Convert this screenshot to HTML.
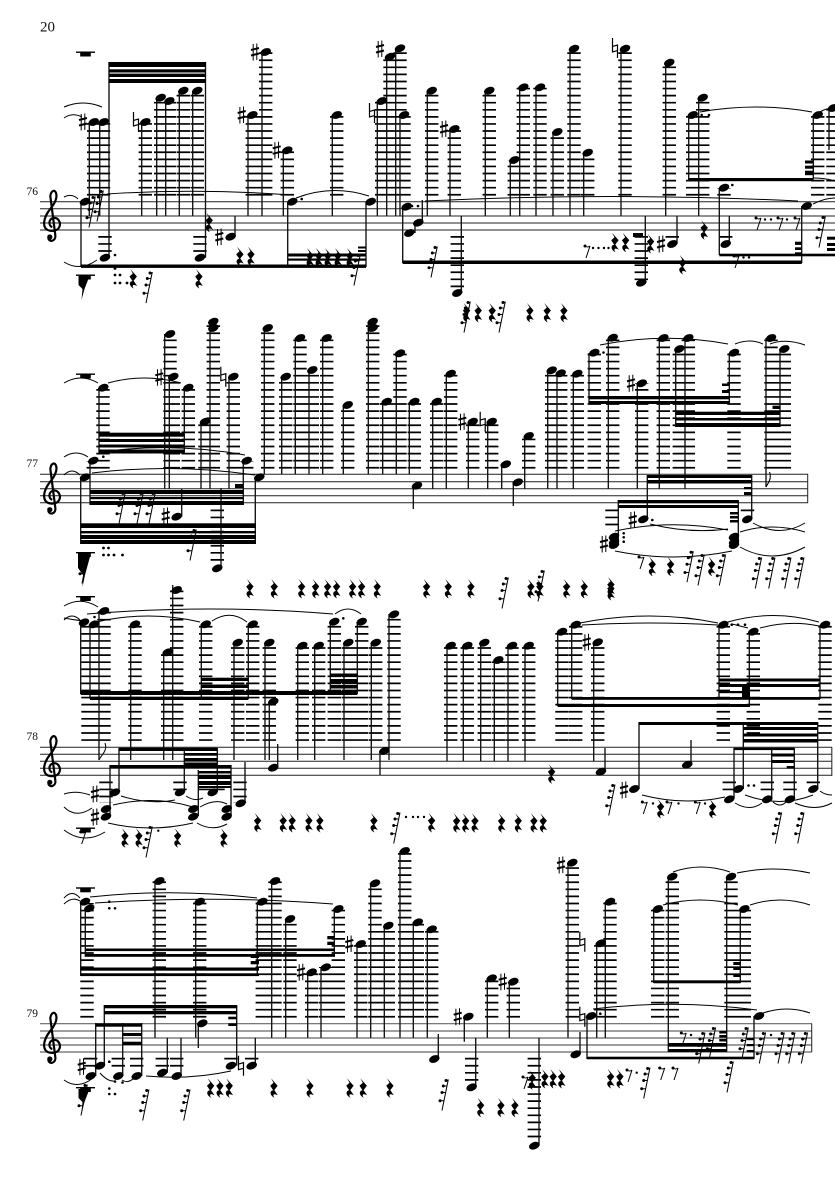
<!DOCTYPE html>
<html><head><meta charset="utf-8"><style>
html,body{margin:0;padding:0;background:#fff}
svg{display:block}
.st{stroke:#222;stroke-width:1;fill:none}
.l{stroke:#000;stroke-width:13.4;stroke-dasharray:1.7 5.38;fill:none}
.v{stroke:#111;stroke-width:1.35;fill:none}
.sl{stroke:#000;stroke-width:1;fill:none}
text{font-family:"Liberation Serif",serif;fill:#111}
.b{stroke:#111;stroke-width:.8;fill:none}
</style></head><body>
<svg width="835" height="1181" viewBox="0 0 835 1181" xmlns="http://www.w3.org/2000/svg">
<defs>
<ellipse id="n" rx="5.5" ry="3.6" transform="rotate(-22)"/>
<path id="q" d="M-3-9 3.6-1.5 .3 2.8 3.8 8C0 6-2 7 .5 10.5-4.5 8-4.5 3.5-.8 3L-3.8-1.5-.5-4.5Z"/>
<g id="s"><path d="M3.3-15.5-3 15.5M3-14.8H0M1.8-9H-2M.5-2.5H-3.5M-1.2 5.8H-5" stroke="#000" stroke-width="1" fill="none"/><circle cx="1" cy="-14.5" r="1.5"/><circle cx="-1.7" cy="-9" r="1.5"/><circle cx="-3" cy="-2.5" r="1.5"/><circle cx="-5" cy="5.8" r="1.5"/></g>
<g id="e"><path d="M3-5-1 7M-2-5C0-3.5 2-4 3-5" stroke="#000" stroke-width="1" fill="none"/><circle cx="-2" cy="-5" r="1.5"/></g>
<g id="h"><path d="M-1.8-8V8.5M1.8-8.5V8" stroke="#000" stroke-width="1" fill="none"/><path d="M-4-2 4-4M-4 3.5 4 1.5" stroke="#000" stroke-width="2" fill="none"/></g>
<path id="a" d="M-2.5-10V4L2.5 2.6V-3L-2.5-1.6M2.5-3V10" stroke="#000" stroke-width="1.2" fill="none"/>
<g id="w"><rect x="-9.5" y="0" width="19" height="1.4"/><rect x="-5.3" y="1" width="10.6" height="4"/></g>
<g id="f"><path d="M0 0C2-4 6-8 3.5-15" stroke="#000" stroke-width="1.1" fill="none"/></g>
<g id="c"><path d="M0 4C-4 3-4-4 1-5C6-6 9 0 7 4C5 9-4 9-7 5C-10 0-7-8-2-14C2-19 5-24 4-29C3-34-1-33-2-27L3 12C4 18-3 20-4 15" stroke="#000" stroke-width="2.2" fill="none"/><circle cx="-2.5" cy="14" r="2.6"/></g>
<path id="k" d="M-6 1H5L0 14-3 25-2 14-6 10Z"/>
</defs>

<text x="40" y="31.5" font-size="15">20</text>
<text x="26.5" y="195" font-size="11.5">76</text>
<text x="26.5" y="467" font-size="11.5">77</text>
<text x="26.5" y="740" font-size="11.5">78</text>
<text x="26.5" y="1017" font-size="11.5">79</text>

<!-- staffs -->
<path class="st" d="M40 201.7H835M40 208.8H835M40 216H835M40 223H835M40 230H835"/>
<path class="st" d="M40 474.3H808M40 481.7H808M40 488.7H808M40 495.7H808M40 502.7H808M807.7 474V503"/>
<path class="st" d="M40 747.3H832M40 754.3H832M40 761.3H832M40 768.3H832M40 775.3H832"/>
<path class="st" style="stroke:#666;stroke-width:1.2" d="M40 1023.7H812M40 1031H812M40 1038H812M40 1045H812M40 1052H812"/>
<path d="M831.8 747V776M811.7 1023.5V1052" stroke="#333" stroke-width="1.1" fill="none"/>
<use href="#c" x="52.3" y="223"/><use href="#c" x="52.3" y="495.7"/><use href="#c" x="52.3" y="768.3"/><use href="#c" x="52.3" y="1045"/>

<!-- SYSTEM 1 -->
<path class="l" d="M93.7 195.6V122M103.5 195.6V122M145.3 195.6V122M160.7 195.6V98M169.3 195.6V101M183.3 195.6V91M197.3 195.6V91M252.3 195.6V115M265.7 195.6V52M287.3 195.6V150M336.7 195.6V115M381.7 195.6V101M390 195.6V57M400 195.6V48M404 195.6V115M431.7 195.6V91M454.3 195.6V129M489.3 195.6V91M514.3 195.6V160M523.3 195.6V87M540 195.6V87M557.3 195.6V132M574 195.6V49M587.7 195.6V153M625 195.6V49M669.3 195.6V63M692.7 195.6V115M702.7 195.6V98M817.7 195.6V115M724 195.6V188M833 195.6V108"/>
<path class="l" d="M105 236V255M200 236V255M457.3 236V290M641.3 236V282M672.3 236V240M725.7 236V240"/>
<path class="v" d="M89.3 122V216M99.7 122V216M81 201.7V267M109 62V257.7M205.5 62V257.7M141.7 122V216M156.7 98V216M165.7 101V216M179.3 91V216M192.7 91V216M248 115V216M262 52V216M283.3 150V216M287.7 201.7V267M332.3 115V216M366 201.7V267M377.3 101V216M386.7 57V216M395.7 48V216M400 115V216M235 216V236.7M402.7 206.7V263M415 222V233M422.3 200V222M427.3 91V216M450 129V216M461.3 216V293M485.3 91V216M510.3 160V216M519.7 87V216M536 87V216M553 132V216M570 49V216M583.7 153V216M621 49V216M645.3 216V282.7M665.7 63V216M677 216V244M688.7 115V181M698.7 98V216M719.3 188V255M729.3 216V244M801.7 206V263M813.3 115V178M829 108V150"/>
<g fill="#000">
<rect x="108.5" y="62" width="97.5" height="5"/><rect x="108.5" y="69.3" width="97.5" height="3.2"/><rect x="108.5" y="73.6" width="97.5" height="3.4"/><rect x="108.5" y="79" width="97.5" height="4"/>
<rect x="81" y="264.5" width="285" height="3.4"/><rect x="288" y="253.5" width="78" height="3"/><rect x="288" y="258.5" width="78" height="2.2"/>
<rect x="402.7" y="260.5" width="399" height="3.5"/>
<rect x="688.7" y="178" width="125" height="3.2"/><rect x="805" y="160.5" width="8.3" height="3"/><rect x="805" y="165.7" width="8.3" height="3"/><rect x="805" y="170.7" width="8.3" height="4.5"/>
<rect x="719.3" y="253.7" width="82.4" height="2.6"/><rect x="795" y="241.7" width="6.7" height="3.2"/><rect x="795" y="247.3" width="6.7" height="2.7"/><rect x="795" y="252.3" width="6.7" height="3.6"/>
<rect x="801.7" y="253.7" width="33.3" height="2.6"/><rect x="827" y="236.7" width="8" height="3"/><rect x="827" y="243" width="8" height="3"/><rect x="827" y="248" width="8" height="3"/>
<rect x="633" y="233" width="10" height="4"/><rect x="358" y="246.5" width="8" height="2"/><rect x="358" y="250" width="8" height="2"/>
<use href="#w" x="85.5" y="51.5"/><use href="#w" x="85.5" y="274.5"/><use href="#k" x="84.5" y="275"/>
<use href="#n" x="93.7" y="122"/><use href="#n" x="103.5" y="122"/><use href="#n" x="85" y="201.7"/><use href="#n" x="105" y="257.7"/><use href="#n" x="200" y="257.7"/>
<use href="#n" x="145.3" y="122"/><use href="#n" x="160.7" y="97.7"/><use href="#n" x="169.3" y="101"/><use href="#n" x="183.3" y="90.7"/><use href="#n" x="197.3" y="90.7"/><use href="#n" x="252.3" y="115"/><use href="#n" x="265.7" y="52"/><use href="#n" x="287.3" y="150.3"/><use href="#n" x="292.3" y="201.7"/><use href="#n" x="336.7" y="115"/><use href="#n" x="370.7" y="201.7"/><use href="#n" x="381.7" y="101"/><use href="#n" x="390" y="56.7"/><use href="#n" x="400" y="48.3"/><use href="#n" x="404" y="115"/><use href="#n" x="406.7" y="206.7"/><use href="#n" x="409.3" y="233"/><use href="#n" x="418.3" y="222.7"/><use href="#n" x="230.7" y="236.7"/>
<use href="#n" x="431.7" y="90.7"/><use href="#n" x="454.3" y="129"/><use href="#n" x="457.3" y="293"/><use href="#n" x="489.3" y="90.7"/><use href="#n" x="514.3" y="160"/><use href="#n" x="523.3" y="87.3"/><use href="#n" x="540" y="87.3"/><use href="#n" x="557.3" y="132"/><use href="#n" x="574" y="48.7"/><use href="#n" x="587.7" y="152.7"/><use href="#n" x="625" y="48.7"/><use href="#n" x="641.3" y="282.7"/><use href="#n" x="669.3" y="62.7"/><use href="#n" x="672.3" y="244"/><use href="#n" x="692.7" y="115"/><use href="#n" x="702.7" y="97.7"/><use href="#n" x="724" y="187.7"/><use href="#n" x="725.7" y="244"/><use href="#n" x="806.7" y="206"/><use href="#n" x="817.7" y="115"/><use href="#n" x="833" y="108"/>
<use href="#h" x="83" y="122"/><use href="#h" x="241.7" y="115"/><use href="#h" x="255" y="52"/><use href="#h" x="276.7" y="150.3"/><use href="#h" x="380" y="49"/><use href="#h" x="219.3" y="237"/><use href="#h" x="444" y="129"/><use href="#h" x="661" y="244"/>
<use href="#a" x="136" y="122"/><use href="#a" x="372" y="113"/><use href="#a" x="615" y="48"/>
<use href="#q" x="209.3" y="221.7"/><use href="#q" x="199" y="278"/><use href="#q" x="133.3" y="278"/><use href="#q" x="240" y="255.7"/><use href="#q" x="251" y="255.7"/><use href="#q" x="704.3" y="229.3"/><use href="#q" x="682.7" y="264"/><use href="#q" x="615" y="241.7"/><use href="#q" x="625.7" y="241.7"/><use href="#q" x="650.7" y="243"/>
<use href="#q" x="466.7" y="312"/><use href="#q" x="478.3" y="312"/><use href="#q" x="492.3" y="312"/><use href="#q" x="530" y="312"/><use href="#q" x="547.3" y="312"/><use href="#q" x="564" y="312"/>
<use href="#s" x="149" y="287.5"/><use href="#s" x="434" y="262"/><use href="#s" x="467" y="317"/><use href="#s" x="502" y="317"/><use href="#s" x="822" y="232"/><use href="#s" x="357" y="270"/>
<use href="#q" x="310" y="257"/><use href="#q" x="319" y="257"/><use href="#q" x="328" y="257"/><use href="#q" x="338" y="257"/><use href="#q" x="350" y="257"/>
<use href="#s" x="92" y="212"/><use href="#s" x="100" y="206"/>
<use href="#e" x="587" y="251"/><use href="#e" x="758" y="223"/><use href="#e" x="780" y="223"/><use href="#e" x="797" y="223"/><use href="#e" x="736" y="261"/>
<circle cx="115" cy="255" r="1.3"/><circle cx="115" cy="268.5" r="1.4"/><circle cx="115" cy="275" r="1.4"/><circle cx="115" cy="283" r="1.4"/><circle cx="120" cy="275" r="1.4"/><circle cx="120" cy="283" r="1.4"/><circle cx="127" cy="283" r="1.4"/><circle cx="301.7" cy="199" r="1.3"/><circle cx="593" cy="248" r="1.2"/><circle cx="598.5" cy="248" r="1.2"/><circle cx="604" cy="248" r="1.2"/><circle cx="608.5" cy="248" r="1.2"/><circle cx="701.7" cy="115" r="1.3"/><circle cx="709" cy="115" r="1.3"/><circle cx="732.3" cy="185" r="1.3"/><circle cx="743.5" cy="257.5" r="1.2"/><circle cx="749" cy="257.5" r="1.2"/><circle cx="765" cy="219.5" r="1.2"/><circle cx="771" cy="219.5" r="1.2"/><circle cx="787" cy="219.5" r="1.2"/><circle cx="418" cy="206" r="1.3"/><circle cx="412" cy="206" r="1.3"/>
</g>
<path class="sl" d="M64 107Q83 99 102 107M64 118Q72 112 82 117M64 197Q72 193 78 199M64 262Q80 272 97 260M107 194Q198 188 290 195M296 198Q332 184 369 196M425 201Q611 192 798 201M700 112Q756 102 812 112M813 178Q825 178 835 181M813 204Q825 198 835 198M820 112Q826 108 835 108"/>

<!-- SYSTEM 2 -->
<path class="l" d="M103 468.6V388M188.3 468.6V388M173.3 468.6V377M170 468.6V334M205 468.6V422M213.3 468.6V322M233.3 468.6V377M267.7 468.6V328M285.7 468.6V377M300 468.6V338M312.3 468.6V370M326.7 468.6V338M347.7 468.6V405M372.7 468.6V322M386.7 468.6V402M400 468.6V353M414.3 468.6V402M436.7 468.6V402M450.7 468.6V374M472.7 468.6V422M491.7 468.6V422M528.7 468.6V436M551.7 468.6V370M560.7 468.6V373M577.3 468.6V374M594.3 468.6V353M612.7 468.6V338M641.7 468.6V383M663.3 468.6V338M679.3 468.6V349M688.3 468.6V338M734 468.6V353M771 468.6V338M784.3 468.6V349M93.3 468.6V461M246.7 468.6V461"/>
<path class="l" d="M217.3 509.5V564M612 509.5V530M747.5 509.5V512"/>
<path class="v" d="M99 388V453M184.3 388V453M169.3 377V488.7M164.7 334V488.7M201 422V488.7M210 322V488.7M229 377V488.7M264.3 328V474.3M281.7 377V474.3M295.3 338V474.3M309 370V474.3M322.7 338V474.3M343.3 405V474.3M368.3 322V474.3M382.7 402V474.3M396.3 353V474.3M409.3 402V474.3M413.3 485.7V509M432.7 402V488.7M446.3 374V488.7M468.3 422V488.7M487.7 422V488.7M501.7 464V488.7M513.3 482V506M524.7 436V488.7M547.7 370V488.7M557 373V488.7M573.3 374V488.7M589 353V404M608.3 338V488.7M637.3 383V488.7M659.3 338V488.7M675.7 349V427M685 338V488.7M729.3 353V404M766 338V487M780 349V427M647.3 475V519M751.7 475V519M618.3 500V545M738.3 500V545M80.7 477V544M90 461V505M255.3 477V544M243.3 461V505M221 488V568M181.7 488.7V516.7"/>
<g fill="#000">
<rect x="99" y="432.7" width="85.3" height="4"/><rect x="99" y="439" width="85.3" height="3"/><rect x="99" y="444.5" width="85.3" height="3"/><rect x="99" y="449.5" width="85.3" height="4"/>
<rect x="90" y="490" width="153.3" height="4"/><rect x="90" y="497" width="153.3" height="2.2"/><rect x="90" y="501" width="153.3" height="4"/><rect x="235" y="484" width="8.3" height="4"/>
<rect x="80.7" y="523.3" width="175" height="4.7"/><rect x="80.7" y="531" width="175" height="2.4"/><rect x="80.7" y="535" width="175" height="4"/><rect x="80.7" y="540" width="175" height="4"/>
<rect x="589" y="396" width="140.3" height="3.3"/><rect x="589" y="401" width="140.3" height="3"/><rect x="722" y="383.5" width="7.3" height="2.5"/><rect x="722" y="390" width="7.3" height="3"/>
<rect x="675.7" y="411.7" width="104.3" height="3.3"/><rect x="675.7" y="418" width="104.3" height="2.5"/><rect x="675.7" y="423" width="104.3" height="4"/><rect x="772.5" y="405.7" width="7.5" height="3.3"/>
<rect x="647.3" y="475" width="104.4" height="3"/><rect x="647.3" y="480" width="104.4" height="3.5"/><rect x="744" y="487" width="7.7" height="2.2"/><rect x="744" y="492" width="7.7" height="3"/>
<rect x="618.3" y="500" width="120" height="3.2"/><rect x="618.3" y="505" width="120" height="3"/><rect x="730" y="512" width="8.3" height="2.5"/><rect x="730" y="516" width="8.3" height="2.5"/><rect x="730" y="520" width="8.3" height="2.5"/>
<use href="#w" x="85.5" y="373.5"/><use href="#w" x="85.5" y="552"/><path d="M78 553H91L85 575 82.5 587 83 575 78 568Z"/>
<use href="#n" x="103.3" y="387.7"/><use href="#n" x="188.3" y="387.7"/><use href="#n" x="173.3" y="376.7"/><use href="#n" x="170" y="334"/><use href="#n" x="205" y="421.7"/><use href="#n" x="213.3" y="321.7"/><use href="#n" x="213.3" y="328"/><use href="#n" x="233.3" y="376.7"/><use href="#n" x="267.7" y="328"/><use href="#n" x="285.7" y="376.7"/><use href="#n" x="300" y="338"/><use href="#n" x="312.3" y="370"/><use href="#n" x="326.7" y="338"/><use href="#n" x="347.7" y="405"/><use href="#n" x="372.7" y="321.7"/><use href="#n" x="372.7" y="328"/><use href="#n" x="386.7" y="401.7"/><use href="#n" x="400" y="353.3"/><use href="#n" x="414.3" y="401.7"/><use href="#n" x="417" y="485.7"/>
<use href="#n" x="436.7" y="401.7"/><use href="#n" x="450.7" y="373.7"/><use href="#n" x="472.7" y="421.7"/><use href="#n" x="491.7" y="421.7"/><use href="#n" x="505.7" y="464.3"/><use href="#n" x="517.7" y="482.3"/><use href="#n" x="528.7" y="436"/><use href="#n" x="551.7" y="370.3"/><use href="#n" x="560.7" y="373.3"/><use href="#n" x="577.3" y="373.7"/><use href="#n" x="594.3" y="352.7"/><use href="#n" x="612.7" y="337.7"/><use href="#n" x="641.7" y="383.3"/><use href="#n" x="663.3" y="338"/><use href="#n" x="679.3" y="349"/><use href="#n" x="688.3" y="338"/><use href="#n" x="734" y="352.7"/><use href="#n" x="771" y="338"/><use href="#n" x="784.3" y="349"/>
<use href="#n" x="85" y="477.3"/><use href="#n" x="93.3" y="460.7"/><use href="#n" x="259.3" y="477.3"/><use href="#n" x="246.7" y="460.7"/><use href="#n" x="217.3" y="568.3"/><use href="#n" x="176.7" y="516.7"/>
<use href="#n" x="643.3" y="519.3"/><use href="#n" x="747.3" y="519.3"/><use href="#n" x="614" y="536.7"/><use href="#n" x="614" y="542"/><use href="#n" x="614" y="545"/><use href="#n" x="734" y="536.7"/><use href="#n" x="734" y="542"/><use href="#n" x="734" y="545"/>
<use href="#h" x="159.3" y="377.3"/><use href="#h" x="462.3" y="421.7"/><use href="#h" x="631" y="383.3"/><use href="#h" x="632.7" y="520"/><use href="#h" x="604" y="544"/><use href="#h" x="165.7" y="516"/>
<use href="#a" x="223.3" y="376.7"/><use href="#a" x="482.7" y="421.7"/>
<use href="#q" x="250" y="588"/><use href="#q" x="274.3" y="588"/><use href="#q" x="301.7" y="588"/><use href="#q" x="315.7" y="588"/><use href="#q" x="327.7" y="588"/><use href="#q" x="336.7" y="588"/><use href="#q" x="352.7" y="588"/><use href="#q" x="361.7" y="588"/><use href="#q" x="377.3" y="588"/><use href="#q" x="426.7" y="588"/><use href="#q" x="448.3" y="588"/><use href="#q" x="471" y="588"/><use href="#q" x="531" y="588"/><use href="#q" x="540" y="588"/><use href="#q" x="566.7" y="588"/><use href="#q" x="584.3" y="588"/><use href="#q" x="611" y="586"/><use href="#q" x="611" y="590"/>
<use href="#q" x="652.3" y="565.7"/><use href="#q" x="670.7" y="565.7"/><use href="#q" x="711.7" y="565.7"/>
<use href="#e" x="641" y="562"/>
<use href="#s" x="505" y="593"/><use href="#s" x="541" y="586"/><use href="#s" x="690" y="566.7"/><use href="#s" x="701" y="570"/><use href="#s" x="722.3" y="570"/><use href="#s" x="758.3" y="573"/><use href="#s" x="771.7" y="573"/><use href="#s" x="787.7" y="573"/><use href="#s" x="800.7" y="573"/><use href="#s" x="122" y="508"/><use href="#s" x="140" y="508"/><use href="#s" x="152" y="508"/><use href="#s" x="193" y="545"/><use href="#s" x="85" y="568"/>
<circle cx="103.3" cy="456.7" r="1.3"/><circle cx="652.3" cy="520" r="1.3"/><circle cx="623.7" cy="533.3" r="1.3"/><circle cx="623.7" cy="537.3" r="1.3"/><circle cx="623.7" cy="541.7" r="1.3"/><circle cx="603.5" cy="352.5" r="1.3"/><circle cx="103.5" cy="548" r="1.4"/><circle cx="108.5" cy="548" r="1.4"/><circle cx="103.5" cy="555" r="1.4"/><circle cx="108.5" cy="555" r="1.4"/><circle cx="114" cy="555" r="1.4"/><circle cx="122.5" cy="555" r="1.4"/>
</g>
<use href="#f" x="766" y="487"/>
<path class="sl" d="M64 383Q81 373 98 383M64 457Q76 449 88 457M64 475Q72 467 80 475M108 383Q144 373 181 383M92 473Q174 463 255 475M100 452Q172 442 245 455M600 345Q665 332 728 344M735 344Q750 338 763 344M770 344Q785 338 805 345M615 531Q672 519 728 530M650 524Q690 534 728 529M615 551Q674 563 732 551M740 532Q772 522 805 532M753 523Q780 538 805 523M740 547Q772 565 805 547"/>

<!-- SYSTEM 3 -->
<path class="l" d="M88 740.9V623M96 740.9V625M104 740.9V611M135 740.9V625M167.7 740.9V652M176.7 740.9V590M205.7 740.9V625M237.7 740.9V643M252.7 740.9V625M269.3 740.9V643M302.3 740.9V646M318.7 740.9V646M334.3 740.9V622M348.3 740.9V643M361.7 740.9V622M375.7 740.9V643M394 740.9V614M450.7 740.9V646M467.3 740.9V646M484.3 740.9V643M498.3 740.9V660M512 740.9V646M528.7 740.9V646M562 740.9V632M575.7 740.9V625M597.7 740.9V642M723.3 740.9V625M753.3 740.9V632M825 740.9V625"/>
<path class="l" d="M106 781.5V803M180 781.5V791M205 781.5V791M218 781.5V791M240 781.5V803M729.3 781.5V791M767.3 781.5V791M790 781.5V791M813.3 781.5V785"/>
<path class="v" d="M80.7 622V694M90 624V699M99 611V760M130.7 624V760M163.7 652V760M172.7 585V760M201.3 624V699M234 643V760M248.3 624V699M265 643V760M269.3 702V760M277.7 744V767.7M297.7 646V760M314.7 646V760M330.3 622V694M344 643V760M357.3 622V694M371.3 643V760M380 751V775M389 614V760M447 646V761M463.3 646V761M480.7 643V761M494.3 660V761M508 646V761M525 646V761M557.7 632V706M571.7 625V699M593.7 642V761M605 748V771.7M719 625V699M749.3 632V706M820 625V699M119 748V792M110 765V816M184.3 748V792M198.3 770V816M217.3 748V792M231 765V816M245 762V803M639 722V789M734 748V799M743.3 722V789M771.7 748V799M794.3 748V799M817.7 722V789M691 740V764.7"/>
<path class="b" style="stroke-width:1.1" d="M99 760C101 755 108 751 105 743"/>
<g fill="#000">
<rect x="80.7" y="691" width="276.6" height="4"/><rect x="90" y="696.7" width="158.3" height="3.3"/><rect x="201.3" y="677.7" width="47" height="3.3"/><rect x="201.3" y="684.5" width="47" height="3.5"/><rect x="330.3" y="673.5" width="27" height="3"/><rect x="330.3" y="679" width="27" height="4"/><rect x="330.3" y="685" width="27" height="3.5"/>
<rect x="119" y="747.7" width="98.3" height="3.3"/><rect x="110" y="765" width="121" height="3.3"/><rect x="184.3" y="753" width="33" height="2.7"/><rect x="184.3" y="758" width="33" height="3"/><rect x="184.3" y="762.5" width="33" height="2.5"/><rect x="198.3" y="771" width="32.7" height="2.5"/><rect x="198.3" y="775" width="32.7" height="4"/><rect x="198.3" y="781" width="32.7" height="4"/><rect x="198.3" y="786" width="32.7" height="2"/>
<rect x="557.7" y="704" width="192.3" height="3"/><rect x="571.7" y="697" width="248.3" height="2.8"/><rect x="719" y="678.5" width="101" height="3"/><rect x="719" y="684" width="101" height="3"/><rect x="719" y="691" width="31" height="2.2"/><rect x="742" y="686" width="8" height="12"/>
<rect x="639" y="722" width="178.7" height="3"/><rect x="743.3" y="727" width="74.4" height="3"/><rect x="743.3" y="733.5" width="74.4" height="3"/><rect x="743.3" y="739" width="74.4" height="3.5"/><rect x="734" y="747.7" width="60.3" height="2.4"/><rect x="771.7" y="753.5" width="22.6" height="3"/><rect x="771.7" y="760" width="22.6" height="3"/><rect x="786.7" y="766" width="7.6" height="2.6"/>
<use href="#w" x="85.5" y="596"/><use href="#w" x="85.5" y="827.5"/>
<use href="#n" x="84" y="622.3"/><use href="#n" x="94" y="624.3"/><use href="#n" x="104" y="611"/><use href="#n" x="135" y="624.3"/><use href="#n" x="167.7" y="652.3"/><use href="#n" x="176.7" y="590"/><use href="#n" x="205.7" y="624.3"/><use href="#n" x="237.7" y="642.7"/><use href="#n" x="252.7" y="624.3"/><use href="#n" x="269.3" y="642.7"/><use href="#n" x="273.3" y="701.7"/><use href="#n" x="273.3" y="767.7"/><use href="#n" x="302.3" y="645.7"/><use href="#n" x="318.7" y="645.7"/><use href="#n" x="334.3" y="621.7"/><use href="#n" x="348.3" y="642.7"/><use href="#n" x="361.7" y="621.7"/><use href="#n" x="375.7" y="642.7"/><use href="#n" x="394" y="614.3"/><use href="#n" x="384.3" y="751"/>
<use href="#n" x="450.7" y="645.7"/><use href="#n" x="467.3" y="645.7"/><use href="#n" x="484.3" y="642.7"/><use href="#n" x="498.3" y="660"/><use href="#n" x="512" y="645.7"/><use href="#n" x="528.7" y="645.7"/><use href="#n" x="562" y="631.7"/><use href="#n" x="575.7" y="624.7"/><use href="#n" x="597.7" y="642.3"/><use href="#n" x="601" y="771.7"/><use href="#n" x="723.3" y="624.7"/><use href="#n" x="753.3" y="631.7"/><use href="#n" x="825" y="624.7"/>
<use href="#n" x="115" y="792.3"/><use href="#n" x="106" y="809"/><use href="#n" x="106" y="816.7"/><use href="#n" x="180" y="792.3"/><use href="#n" x="193.3" y="809"/><use href="#n" x="193.3" y="816.7"/><use href="#n" x="212.7" y="792.3"/><use href="#n" x="226.7" y="809"/><use href="#n" x="226.7" y="816.7"/><use href="#n" x="240.7" y="803.3"/>
<use href="#n" x="634.3" y="789"/><use href="#n" x="729.3" y="799.3"/><use href="#n" x="738.3" y="789"/><use href="#n" x="767.3" y="799.3"/><use href="#n" x="790" y="799.3"/><use href="#n" x="813.3" y="789"/><use href="#n" x="687.3" y="764.7"/>
<use href="#h" x="95" y="794"/><use href="#h" x="95" y="817"/><use href="#h" x="586.7" y="642.3"/><use href="#h" x="624" y="790"/>
<use href="#q" x="257.7" y="822"/><use href="#q" x="283.3" y="822"/><use href="#q" x="292.3" y="822"/><use href="#q" x="309" y="822"/><use href="#q" x="320" y="822"/><use href="#q" x="374" y="822"/><use href="#q" x="431.7" y="822"/><use href="#q" x="125" y="837.3"/><use href="#q" x="139" y="837.3"/><use href="#q" x="177.7" y="837.3"/><use href="#q" x="224" y="837.3"/><use href="#q" x="456.7" y="822.3"/><use href="#q" x="465.7" y="822.3"/><use href="#q" x="475" y="822.3"/><use href="#q" x="501.7" y="822.3"/><use href="#q" x="518.3" y="822.3"/><use href="#q" x="534" y="822.3"/><use href="#q" x="543.3" y="822.3"/><use href="#q" x="551.7" y="773.3"/><use href="#q" x="660.7" y="808"/><use href="#q" x="712.7" y="808"/>
<use href="#s" x="396.7" y="828"/><use href="#s" x="149" y="842"/><use href="#s" x="611.7" y="800"/><use href="#s" x="778.3" y="828"/><use href="#s" x="800.7" y="828"/>
<use href="#e" x="82.7" y="837"/><use href="#e" x="644.3" y="807"/><use href="#e" x="669" y="807"/><use href="#e" x="697.3" y="807"/>
<circle cx="94.5" cy="617" r="1.3"/><circle cx="343.3" cy="618.3" r="1.3"/><circle cx="158.3" cy="830.7" r="1.2"/><circle cx="406" cy="817" r="1.2"/><circle cx="413" cy="817" r="1.2"/><circle cx="418" cy="817" r="1.2"/><circle cx="424" cy="817" r="1.2"/><circle cx="731.7" cy="624.7" r="1.3"/><circle cx="738" cy="624.7" r="1.3"/><circle cx="745" cy="624.7" r="1.3"/><circle cx="748.5" cy="785.5" r="1.3"/><circle cx="754" cy="785.5" r="1.3"/><circle cx="653" cy="803.5" r="1.2"/><circle cx="678.5" cy="803.5" r="1.2"/><circle cx="705" cy="803.5" r="1.2"/>
</g>
<path class="sl" d="M64 606Q81 596 98 607M64 620Q72 612 80 620M64 618Q74 620 84 621M87 614Q210 604 333 614M97 622Q148 610 200 622M212 621Q230 609 247 622M335 614Q348 604 361 614M64 794Q76 790 90 795M64 807Q76 819 92 808M64 830Q84 845 105 832M121 796Q150 805 175 800M113 805Q155 795 193 807M108 823Q150 833 193 823M197 823Q212 832 227 824M200 807Q215 798 227 804M186 796Q195 802 203 798M580 623Q650 609 718 623M582 625Q650 621 718 625M728 622Q773 609 819 622M760 628Q790 620 819 626M732 624Q740 626 748 628M642 795Q684 806 725 797M735 803Q750 812 762 803M773 802Q780 808 786 802M795 803Q815 812 832 803M745 795Q780 808 813 795M820 791Q825 795 832 795"/>

<!-- SYSTEM 4 -->
<path class="l" d="M87 1017.6V903M159.3 1017.6V881M199.7 1017.6V902M262.3 1017.6V902M275 1017.6V881M290 1017.6V919M311.7 1017.6V972M325.7 1017.6V967M338.3 1017.6V909M360.7 1017.6V944M375 1017.6V883M388.3 1017.6V926M404.7 1017.6V851M417.3 1017.6V922M431.7 1017.6V929M491.7 1017.6V978M513.3 1017.6V982M572.3 1017.6V863M600.7 1017.6V943M610 1017.6V902M657.7 1017.6V909M672.3 1017.6V877M731 1017.6V877M744.3 1017.6V909"/>
<path class="l" d="M90.7 1057.8V1072M118.3 1057.8V1072M136.7 1057.8V1072M162.3 1057.8V1068M176.7 1057.8V1068M231 1057.8V1062M471.7 1057.8V1084M534.3 1057.8V1142M251.7 1057.8V1062"/>
<path class="v" d="M80.7 902V976M85.3 908V956.7M155 881V1037.7M195.7 902V1037.7M198.3 1023V1048M257.3 902V976M271.7 881V1037.7M285.7 919V1037.7M307.7 972V1037.7M321 967V1037.7M334.3 909V956.7M357 944V1037.7M370.7 883V1037.7M384.3 926V1037.7M400 851V1037.7M413.3 922V1037.7M427.3 929V1037.7M104.3 1005V1065.7M95.7 1023V1076M122.7 1023V1076M141.7 1023V1076M236.7 1005V1065.7M167.3 1037.7V1072.7M181 1037.7V1076M255.3 1037.7V1065.7M438.3 1034V1059M464.3 1016.7V1041.7M475.7 1037.7V1087M487.3 978V1037.7M509.3 982V1037.7M539 1037.7V1145.7M568 863V1037.7M580 1032V1054M587 1016V1059M596.7 943V1037.7M605.3 902V1037.7M653.7 909V983M668.3 877V1051.7M726.7 877V1051.7M740.3 909V983M754 1016V1059"/>
<g fill="#000">
<rect x="85.3" y="948.5" width="249.7" height="2.6"/><rect x="85.3" y="954" width="249.7" height="2.8"/><rect x="80.7" y="967.5" width="178.3" height="3.2"/><rect x="80.7" y="973.3" width="178.3" height="2.8"/><rect x="327.3" y="936" width="7" height="3.3"/><rect x="327.3" y="941.7" width="7" height="3.3"/><rect x="250.7" y="955" width="8.3" height="3"/><rect x="250.7" y="961" width="8.3" height="3.3"/>
<rect x="104.3" y="1005" width="132.4" height="3.3"/><rect x="104.3" y="1011" width="132.4" height="3.3"/><rect x="95.7" y="1023.3" width="46" height="3.4"/><rect x="122.7" y="1033" width="19" height="3"/><rect x="122.7" y="1041.7" width="19" height="3.3"/><rect x="228.3" y="1016.7" width="8.4" height="2.6"/><rect x="228.3" y="1023.3" width="8.4" height="2.7"/>
<rect x="653.7" y="980.3" width="86.6" height="3"/><rect x="733.3" y="962" width="7" height="3"/><rect x="733.3" y="967" width="7" height="3"/><rect x="733.3" y="974" width="7" height="3"/><rect x="587" y="1056.7" width="167" height="2.6"/><rect x="668.3" y="1043" width="58.4" height="3.7"/><rect x="668.3" y="1049" width="58.4" height="3"/><rect x="719.3" y="1031" width="7.4" height="2.5"/><rect x="719.3" y="1035" width="7.4" height="2.5"/><rect x="719.3" y="1039" width="7.4" height="2.5"/><rect x="746.7" y="1038" width="7.3" height="2.2"/><rect x="746.7" y="1044" width="7.3" height="2.2"/><rect x="746.7" y="1050" width="7.3" height="2.2"/>
<use href="#w" x="85.5" y="887.3"/><use href="#w" x="85.5" y="1087"/><use href="#k" x="84.5" y="1088"/><use href="#s" x="84" y="1100"/>
<use href="#n" x="85" y="901.7"/><use href="#n" x="89.3" y="908.3"/><use href="#n" x="159.3" y="881"/><use href="#n" x="199.7" y="901.7"/><use href="#n" x="202.3" y="1023.3"/><use href="#n" x="262.3" y="901.7"/><use href="#n" x="275" y="881"/><use href="#n" x="290" y="919"/><use href="#n" x="311.7" y="972.3"/><use href="#n" x="325.7" y="967.3"/><use href="#n" x="338.3" y="909"/><use href="#n" x="360.7" y="944"/><use href="#n" x="375" y="883.3"/><use href="#n" x="388.3" y="925.7"/><use href="#n" x="404.7" y="851"/><use href="#n" x="417.8" y="922.3"/><use href="#n" x="431.7" y="929.3"/>
<use href="#n" x="90.7" y="1076"/><use href="#n" x="100" y="1065.7"/><use href="#n" x="118.3" y="1076"/><use href="#n" x="136.7" y="1076"/><use href="#n" x="231" y="1065.7"/><use href="#n" x="162.3" y="1072.7"/><use href="#n" x="176.7" y="1076"/><use href="#n" x="251.7" y="1065.7"/>
<use href="#n" x="434.3" y="1059"/><use href="#n" x="468.3" y="1016.7"/><use href="#n" x="471.7" y="1087.3"/><use href="#n" x="491.7" y="978.3"/><use href="#n" x="513.3" y="981.7"/><use href="#n" x="534.3" y="1145.7"/><use href="#n" x="572.3" y="862.7"/><use href="#n" x="575.7" y="1054.3"/><use href="#n" x="591" y="1016"/><use href="#n" x="600.7" y="943.3"/><use href="#n" x="610" y="901.7"/><use href="#n" x="657.7" y="909"/><use href="#n" x="672.3" y="876.7"/><use href="#n" x="731" y="876.7"/><use href="#n" x="744.3" y="909"/><use href="#n" x="759" y="1016"/>
<use href="#h" x="81.7" y="1066.7"/><use href="#h" x="301" y="972.3"/><use href="#h" x="349.3" y="944"/><use href="#h" x="457.7" y="1016.7"/><use href="#h" x="502.7" y="981.7"/><use href="#h" x="561" y="865"/>
<use href="#a" x="241" y="1065.7"/><use href="#a" x="582.3" y="941.7"/><use href="#a" x="582.3" y="1016.7"/>
<use href="#q" x="210.7" y="1087.3"/><use href="#q" x="220" y="1087.3"/><use href="#q" x="229.3" y="1087.3"/><use href="#q" x="274" y="1087.3"/><use href="#q" x="310" y="1087.3"/><use href="#q" x="350" y="1087.3"/><use href="#q" x="363.3" y="1087.3"/><use href="#q" x="390" y="1087.3"/>
<use href="#q" x="480.7" y="1106.7"/><use href="#q" x="501" y="1106.7"/><use href="#q" x="515" y="1106.7"/><use href="#q" x="532.3" y="1079.3"/><use href="#q" x="545" y="1078"/><use href="#q" x="553.3" y="1078"/><use href="#q" x="561.7" y="1078"/><use href="#q" x="610.7" y="1078"/><use href="#q" x="620" y="1078"/>
<use href="#s" x="145.7" y="1105"/><use href="#s" x="186.7" y="1105"/><use href="#s" x="445" y="1095"/><use href="#s" x="646.7" y="1083"/><use href="#s" x="730" y="1077"/><use href="#s" x="701.7" y="1048"/><use href="#s" x="712.3" y="1043"/><use href="#s" x="745" y="1043"/><use href="#s" x="762.3" y="1048"/><use href="#s" x="781" y="1048"/><use href="#s" x="791.7" y="1048"/><use href="#s" x="804.3" y="1048"/>
<use href="#e" x="525" y="1082"/><use href="#e" x="629" y="1075"/><use href="#e" x="661.7" y="1073"/><use href="#e" x="675" y="1073"/><use href="#e" x="683.3" y="1038"/>
<circle cx="109.3" cy="901.7" r="1.3"/><circle cx="109.3" cy="908.3" r="1.3"/><circle cx="115" cy="908.3" r="1.3"/><circle cx="109.3" cy="1061.7" r="1.3"/><circle cx="115" cy="1081.5" r="1.3"/><circle cx="122.5" cy="1082.5" r="1.3"/><circle cx="109.3" cy="1088.5" r="1.3"/><circle cx="109.3" cy="1094" r="1.3"/><circle cx="115" cy="1094" r="1.3"/><circle cx="636.7" cy="1072.7" r="1.2"/><circle cx="600.3" cy="1013.7" r="1.3"/><circle cx="691" cy="1035" r="1.2"/><circle cx="771" cy="1035" r="1.2"/>
</g>
<path class="sl" d="M64 898Q72 889 80 898M64 904Q72 896 80 901M90 897Q173 888 257 898M95 903Q214 895 333 904M64 1080Q78 1090 93 1078M100 1073Q108 1082 115 1081M122 1080Q128 1084 134 1078M146 1076Q190 1080 231 1071M673 872Q701 862 730 872M737 873Q773 865 810 873M663 905Q700 895 738 905M750 905Q780 895 810 905M593 1009Q675 999 757 1010M763 1013Q787 1005 810 1013"/>
</svg>
</body></html>
